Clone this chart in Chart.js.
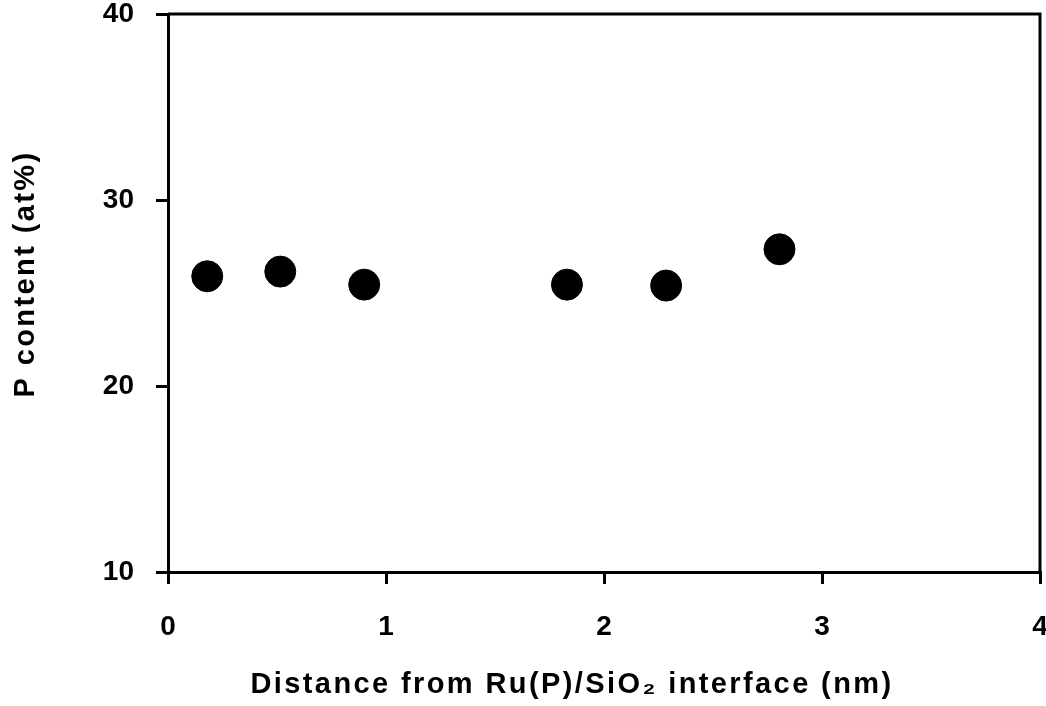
<!DOCTYPE html>
<html>
<head>
<meta charset="utf-8">
<script src="https://cdn.jsdelivr.net/npm/chart.js@4.4.1/dist/chart.umd.min.js"></script>
<style>
	html, body { margin: 0; padding: 0; background: #fff; }
	#wrap { width: 1046px; height: 706px; }
</style>
</head>
<body>
<div id="wrap"><canvas id="pChart"></canvas></div>
<script>
// P content measured at distances from the Ru(P)/SiO2 interface
const distanceNm = [0.18, 0.515, 0.9, 1.83, 2.285, 2.805];
const pContent = [25.9, 26.15, 25.45, 25.45, 25.4, 27.35];
const xTicks = [0, 1, 2, 3, 4];
const yTicks = [10, 20, 30, 40];
const xTitle = "Distance from Ru(P)/SiO\u2082 interface (nm)";
const yTitle = "P content (at%)";

const fontFamily = "'Liberation Sans', Arial, sans-serif";
const tickFont = { family: fontFamily, size: 28, weight: "bold" };

const points = distanceNm.map((d, i) => ({ x: d, y: pContent[i] }));

// box around the plot + axis titles placed by hand
const frame = {
	id: "frame",
	afterDraw(chart) {
		const { ctx, chartArea: a } = chart;
		ctx.save();
		ctx.strokeStyle = "#000";
		ctx.lineWidth = 3;
		ctx.beginPath();
		ctx.moveTo(a.left, a.top);
		ctx.lineTo(a.right, a.top);
		ctx.lineTo(a.right, a.bottom);
		ctx.stroke();

		ctx.fillStyle = "#000";
		ctx.font = "bold 29px " + fontFamily;
		ctx.letterSpacing = "2.4px";
		ctx.textAlign = "center";
		ctx.textBaseline = "alphabetic";
		ctx.fillText(xTitle, 572, 693);
		ctx.translate(34, 274);
		ctx.rotate(-Math.PI / 2);
		ctx.fillText(yTitle, 0, 0);
		ctx.restore();
	},
};

// fixed axis sizes, no extra room for overhanging labels
function fixX(s) {
	s.height = 134;
	s.paddingLeft = 0;
	s.paddingRight = 0;
}
function fixY(s) {
	s.width = 168;
	s.paddingTop = 0;
	s.paddingBottom = 0;
}

const ctx = document.getElementById("pChart");
new Chart(ctx, {
	type: "scatter",
	data: {
		datasets: [
			{
				data: points,
				backgroundColor: "#000",
				borderColor: "#000",
				pointRadius: 15.5,
				pointHoverRadius: 15.5,
			},
		],
	},
	options: {
		responsive: true,
		maintainAspectRatio: false,
		animation: false,
		events: [],
		layout: { autoPadding: false, padding: { top: 14, right: 6, left: 0, bottom: 0 } },
		plugins: { legend: { display: false }, tooltip: { enabled: false } },
		scales: {
			x: {
				type: "linear",
				min: 0,
				max: 4,
				afterBuildTicks: (s) => { s.ticks = xTicks.map((v) => ({ value: v })); },
				afterFit: fixX,
				border: { color: "#000", width: 3 },
				grid: { drawOnChartArea: false, color: "#000", lineWidth: 3, tickLength: 12 },
				ticks: { color: "#000", font: tickFont, padding: 26, maxRotation: 0 },
			},
			y: {
				type: "linear",
				min: 10,
				max: 40,
				afterBuildTicks: (s) => { s.ticks = yTicks.map((v) => ({ value: v })); },
				afterFit: fixY,
				border: { color: "#000", width: 3 },
				grid: { drawOnChartArea: false, color: "#000", lineWidth: 3, tickLength: 12 },
				ticks: { color: "#000", font: tickFont, padding: 22 },
			},
		},
	},
	plugins: [frame],
});
</script>
</body>
</html>
